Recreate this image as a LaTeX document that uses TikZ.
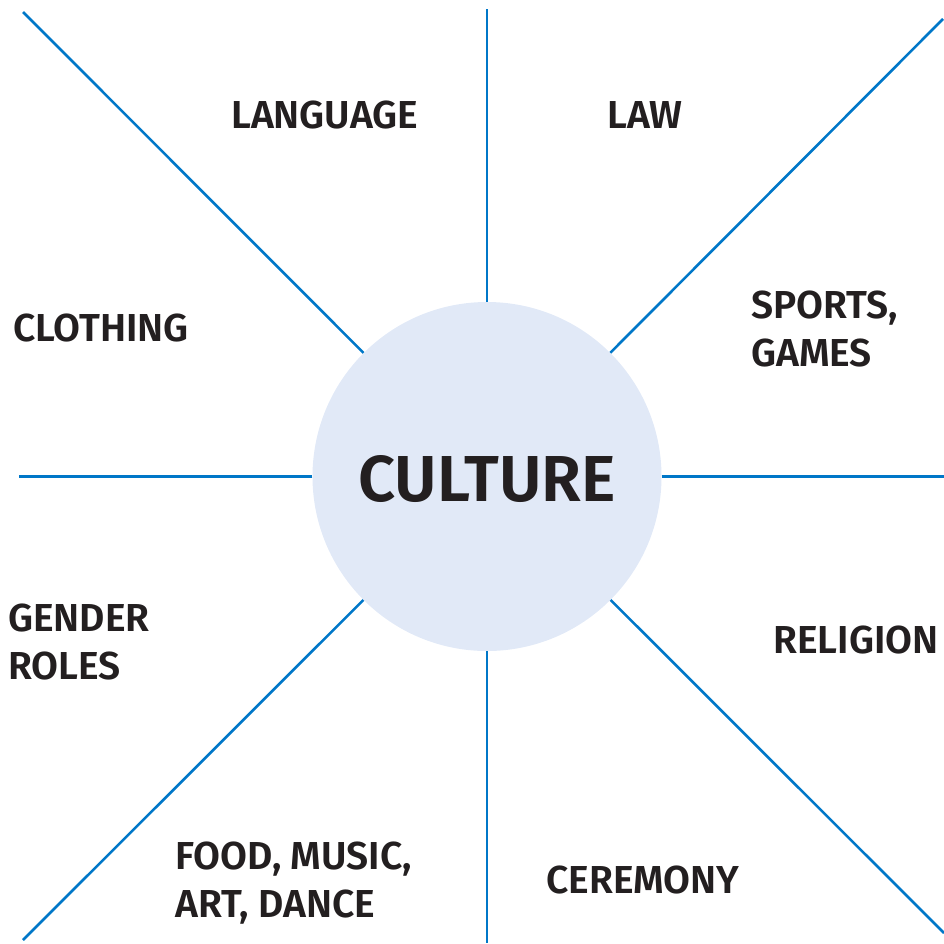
\documentclass[tikz,border=0pt]{standalone}
\usepackage{fontspec}
\setmainfont{Fira Sans SemiBold}
\definecolor{spoke}{HTML}{0077C8}
\definecolor{hub}{HTML}{E1E9F7}
\definecolor{ink}{HTML}{231F20}
\begin{document}
\begin{tikzpicture}[x=1pt,y=-1pt,
  spokeline/.style={draw=spoke,line width=2.6pt},
  topic/.style={inner sep=0pt,anchor=base west,text=ink,align=left,
    font=\fontsize{39}{48}\selectfont},
  hubnode/.style={circle,fill=hub,minimum size=349pt,inner sep=0pt}]
  \useasboundingbox (0,0) rectangle (944,943);
  % central hub
  \node[hubnode] (hub) at (487,476.5) {};
  \node[inner sep=0pt,anchor=base,text=ink,font=\fontsize{65}{70}\selectfont] (culture) at (487,501) {CULTURE};
  % outer ends of the eight spokes
  \coordinate (n)  at (487,9);
  \coordinate (ne) at (943,19);
  \coordinate (e)  at (944,476.5);
  \coordinate (se) at (944,933);
  \coordinate (s)  at (487,943);
  \coordinate (sw) at (23,940);
  \coordinate (w)  at (19,476.5);
  \coordinate (nw) at (23,12);
  \foreach \p in {n,ne,e,se,s,sw,w,nw}
    \draw[spokeline] (hub) -- (\p);
  % topics around the hub (two-line labels sit on the baseline of their last line)
  \node[topic] (language) at (231,128) {LANGUAGE};
  \node[topic] (law) at (607,128) {LAW};
  \node[topic] (clothing) at (13,341) {CLOTHING};
  \node[topic] (sports) at (751,366) {SPORTS,\\GAMES};
  \node[topic] (gender) at (8,679) {GENDER\\ROLES};
  \node[topic] (religion) at (773,653) {RELIGION};
  \node[topic] (food) at (175,917) {FOOD, MUSIC,\\ART, DANCE};
  \node[topic] (ceremony) at (546,893) {CEREMONY};
\end{tikzpicture}
\end{document}
